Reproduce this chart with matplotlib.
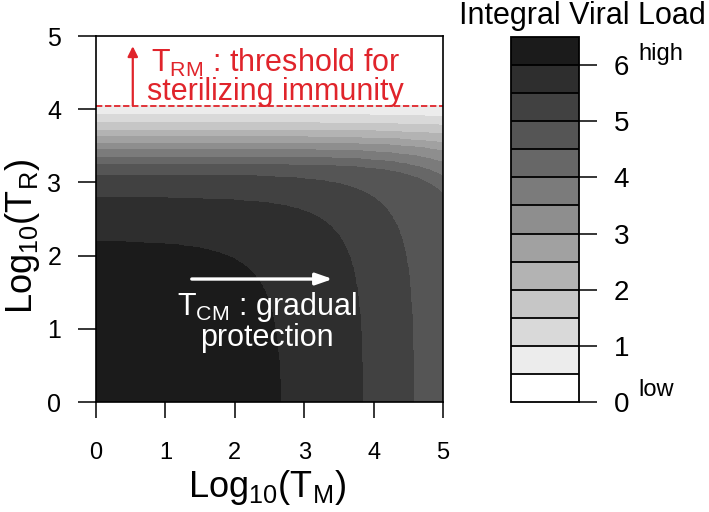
import numpy as np
import matplotlib
matplotlib.use("Agg")
import matplotlib.pyplot as plt

plt.rcParams["font.family"] = ["Liberation Sans", "DejaVu Sans"]
plt.rcParams["mathtext.default"] = "regular"

# contour levels of the integral viral load (colour bar bands)
levels = np.arange(0, 6.75, 0.5)
cbar_ticks = [0, 1, 2, 3, 4, 5, 6]

# boundary of each level (0.5 ... 6.0):
# where the band edge meets log10(TM) (vertical part) and log10(TR) (horizontal part)
edge_levels = [0.5, 1.0, 1.5, 2.0, 2.5, 3.0, 3.5, 4.0, 4.5, 5.0, 5.5, 6.0]
edge_tm = [20.0, 7.2, 6.9, 6.6, 6.3, 6.1, 5.85, 5.65, 5.45, 4.58, 3.85, 2.68]
edge_tr = [4.05, 3.92, 3.81, 3.71, 3.62, 3.54, 3.45, 3.35, 3.25, 3.10, 2.79, 2.20]
corner = 0.7  # roundness of the corners

trm_threshold = 4.05

greys = ["#ffffff", "#ececec", "#d9d9d9", "#c6c6c6", "#b3b3b3", "#a1a1a1",
         "#8e8e8e", "#7b7b7b", "#676767", "#555555", "#414141", "#2e2e2e",
         "#1b1b1b"]
RED = "#e0242b"

# field
tm = np.linspace(0, 5, 601)
tr = np.linspace(0, 5, 601)
X, Y = np.meshgrid(tm, tr)
Z = np.full(X.shape, 0.25)
for a, b in zip(edge_tm, edge_tr):
    inside = 10 ** (corner * (X - a)) + 10 ** (corner * (Y - b)) < 1
    Z += 0.5 * inside

fig = plt.figure(figsize=(7.09, 5.12), dpi=100)
ax = fig.add_axes([96 / 709, 1 - 402 / 512, 347 / 709, 366 / 512])
cax = fig.add_axes([511 / 709, 1 - 402 / 512, 68 / 709, 365 / 512])

cs = ax.contourf(X, Y, Z, levels=levels, colors=greys)
ax.set_xlim(0, 5)
ax.set_ylim(0, 5)
ax.set_xticks(range(6))
ax.set_yticks(range(6))
for s in ax.spines.values():
    s.set_linewidth(1.2)
ax.tick_params(axis="x", direction="out", length=11.5, width=1.1,
               labelsize=17, pad=17)
ax.tick_params(axis="y", direction="out", length=13, width=1.1,
               labelsize=18, pad=12)

# T_RM threshold
ax.axhline(trm_threshold, color=RED, lw=1.3, ls=(0, (3.5, 1.5)))
ax.annotate("", xy=(0.53, 4.86), xytext=(0.53, trm_threshold),
            arrowprops=dict(arrowstyle="-|>,head_width=0.3,head_length=0.6",
                            color=RED, lw=1.6, shrinkA=0, shrinkB=0))
ax.text(2.59, 4.44, "T$_{RM}$ : threshold for\nsterilizing immunity",
        ha="center", va="center", multialignment="center",
        fontsize=22, color=RED, linespacing=0.95)

# T_CM gradual protection
ax.annotate("", xy=(3.41, 1.68), xytext=(1.38, 1.68),
            arrowprops=dict(arrowstyle="-|>,head_width=0.35,head_length=1.0",
                            color="white", lw=2.4, shrinkA=0, shrinkB=0))
ax.text(2.46, 1.10, "T$_{CM}$ : gradual\nprotection",
        ha="center", va="center", multialignment="center",
        fontsize=22, color="white", linespacing=0.95)

fig.text(267 / 709, 1 - 497 / 512, "Log$_{10}$(T$_{M}$)", fontsize=26,
         ha="center", va="baseline")
fig.text(32 / 709, 1 - 236 / 512, "Log$_{10}$(T$_{R}$)", fontsize=26,
         ha="center", va="baseline", rotation=90, rotation_mode="anchor")

# colour bar
cb = fig.colorbar(cs, cax=cax, ticks=cbar_ticks, drawedges=True)
cb.outline.set_linewidth(1.3)
cb.dividers.set_color("black")
cb.dividers.set_linewidth(1.3)
cax.tick_params(length=13, width=1.1, labelsize=20, pad=12)
fig.text(582 / 709, 1 - 16 / 512, "Integral Viral Load", fontsize=22,
         ha="center", va="center")
fig.text(638 / 709, 1 - 54 / 512, "high", fontsize=17, ha="left", va="center")
fig.text(638 / 709, 1 - 390 / 512, "low", fontsize=17, ha="left", va="center")

fig.savefig("out.png", dpi=100, facecolor="white")
